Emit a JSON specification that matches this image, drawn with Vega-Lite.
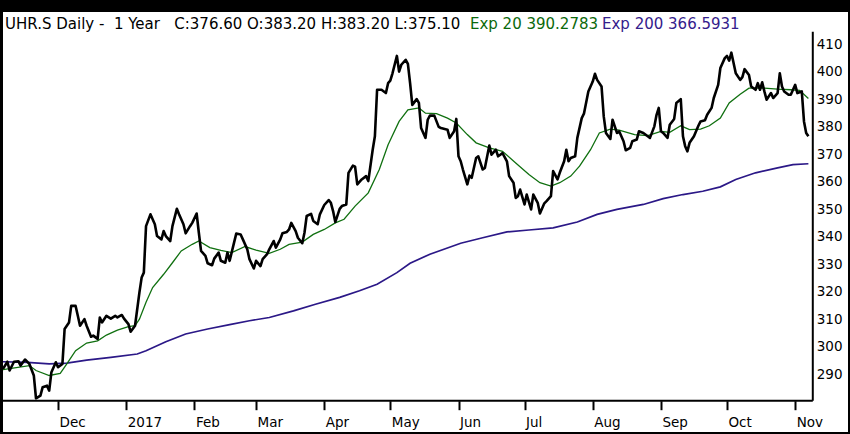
{
  "$schema": "https://vega.github.io/schema/vega-lite/v6.json",
  "width": 845,
  "height": 420,
  "autosize": {"type": "none"},
  "padding": {"left": 3, "top": 12, "right": 2, "bottom": 2},
  "background": "black",
  "config": {
    "view": {"fill": "white", "stroke": null},
    "font": "DejaVu Sans",
    "axis": {"labelOverlap": false, "labelFlush": false, "labelBound": false},
    "axisY": {"labelOverlap": false, "tickCount": 30},
    "axisX": {"tickCount": 30}
  },
  "datasets": {
    "close": [
      {"date": "2016-11-06", "value": 292.0}, {"date": "2016-11-08", "value": 294.6}, {"date": "2016-11-09", "value": 291.4},
      {"date": "2016-11-11", "value": 294.6}, {"date": "2016-11-13", "value": 294.8}, {"date": "2016-11-14", "value": 293.2},
      {"date": "2016-11-16", "value": 295.4}, {"date": "2016-11-18", "value": 293.8}, {"date": "2016-11-20", "value": 289.6},
      {"date": "2016-11-21", "value": 281.3}, {"date": "2016-11-23", "value": 282.3}, {"date": "2016-11-24", "value": 285.3},
      {"date": "2016-11-26", "value": 285.9}, {"date": "2016-11-27", "value": 284.1}, {"date": "2016-11-28", "value": 290.8},
      {"date": "2016-11-30", "value": 294.4}, {"date": "2016-12-01", "value": 292.6}, {"date": "2016-12-03", "value": 293.8},
      {"date": "2016-12-04", "value": 306.5}, {"date": "2016-12-06", "value": 308.9}, {"date": "2016-12-07", "value": 314.9},
      {"date": "2016-12-09", "value": 314.9}, {"date": "2016-12-10", "value": 311.3}, {"date": "2016-12-11", "value": 307.7},
      {"date": "2016-12-13", "value": 310.1}, {"date": "2016-12-14", "value": 307.7}, {"date": "2016-12-16", "value": 303.7},
      {"date": "2016-12-17", "value": 304.1}, {"date": "2016-12-19", "value": 302.9}, {"date": "2016-12-20", "value": 310.7},
      {"date": "2016-12-21", "value": 308.9}, {"date": "2016-12-23", "value": 311.3}, {"date": "2016-12-25", "value": 310.3},
      {"date": "2016-12-27", "value": 311.3}, {"date": "2016-12-28", "value": 310.7}, {"date": "2016-12-30", "value": 311.6},
      {"date": "2016-12-31", "value": 310.3}, {"date": "2017-01-02", "value": 308.3}, {"date": "2017-01-03", "value": 305.5},
      {"date": "2017-01-05", "value": 307.7}, {"date": "2017-01-07", "value": 319.8}, {"date": "2017-01-08", "value": 325.2},
      {"date": "2017-01-09", "value": 327.0}, {"date": "2017-01-10", "value": 343.9}, {"date": "2017-01-12", "value": 348.2},
      {"date": "2017-01-14", "value": 344.6}, {"date": "2017-01-15", "value": 340.3}, {"date": "2017-01-17", "value": 339.1},
      {"date": "2017-01-18", "value": 342.1}, {"date": "2017-01-19", "value": 340.3}, {"date": "2017-01-21", "value": 338.5},
      {"date": "2017-01-22", "value": 343.9}, {"date": "2017-01-24", "value": 350.2}, {"date": "2017-01-25", "value": 348.2},
      {"date": "2017-01-27", "value": 344.6}, {"date": "2017-01-28", "value": 341.3}, {"date": "2017-01-30", "value": 343.9},
      {"date": "2017-01-31", "value": 345.1}, {"date": "2017-02-02", "value": 348.5}, {"date": "2017-02-03", "value": 341.5},
      {"date": "2017-02-04", "value": 334.9}, {"date": "2017-02-06", "value": 333.1}, {"date": "2017-02-07", "value": 330.4},
      {"date": "2017-02-09", "value": 329.7}, {"date": "2017-02-10", "value": 332.1}, {"date": "2017-02-12", "value": 334.3},
      {"date": "2017-02-13", "value": 331.3}, {"date": "2017-02-15", "value": 330.6}, {"date": "2017-02-16", "value": 334.3},
      {"date": "2017-02-17", "value": 331.3}, {"date": "2017-02-19", "value": 337.9}, {"date": "2017-02-20", "value": 341.2},
      {"date": "2017-02-22", "value": 340.9}, {"date": "2017-02-23", "value": 339.1}, {"date": "2017-02-25", "value": 335.5},
      {"date": "2017-02-26", "value": 331.9}, {"date": "2017-02-28", "value": 328.5}, {"date": "2017-03-01", "value": 331.3},
      {"date": "2017-03-03", "value": 329.4}, {"date": "2017-03-04", "value": 331.9}, {"date": "2017-03-06", "value": 333.7},
      {"date": "2017-03-07", "value": 335.5}, {"date": "2017-03-09", "value": 338.5}, {"date": "2017-03-10", "value": 336.1},
      {"date": "2017-03-12", "value": 339.1}, {"date": "2017-03-13", "value": 341.3}, {"date": "2017-03-15", "value": 341.8},
      {"date": "2017-03-16", "value": 342.7}, {"date": "2017-03-17", "value": 345.1}, {"date": "2017-03-19", "value": 342.1},
      {"date": "2017-03-20", "value": 339.7}, {"date": "2017-03-22", "value": 337.7}, {"date": "2017-03-23", "value": 341.5},
      {"date": "2017-03-24", "value": 347.6}, {"date": "2017-03-26", "value": 348.4}, {"date": "2017-03-27", "value": 345.8},
      {"date": "2017-03-29", "value": 344.6}, {"date": "2017-03-30", "value": 348.2}, {"date": "2017-04-01", "value": 351.6},
      {"date": "2017-04-03", "value": 353.4}, {"date": "2017-04-04", "value": 352.4}, {"date": "2017-04-05", "value": 349.4},
      {"date": "2017-04-06", "value": 345.4}, {"date": "2017-04-08", "value": 350.2}, {"date": "2017-04-09", "value": 351.2},
      {"date": "2017-04-11", "value": 351.8}, {"date": "2017-04-12", "value": 363.3}, {"date": "2017-04-14", "value": 365.9},
      {"date": "2017-04-15", "value": 365.5}, {"date": "2017-04-16", "value": 359.1}, {"date": "2017-04-18", "value": 360.9},
      {"date": "2017-04-20", "value": 362.1}, {"date": "2017-04-21", "value": 360.3}, {"date": "2017-04-23", "value": 371.7},
      {"date": "2017-04-24", "value": 376.6}, {"date": "2017-04-25", "value": 393.5}, {"date": "2017-04-27", "value": 393.5},
      {"date": "2017-04-29", "value": 392.3}, {"date": "2017-04-30", "value": 395.9}, {"date": "2017-05-01", "value": 396.8},
      {"date": "2017-05-02", "value": 399.5}, {"date": "2017-05-04", "value": 405.8}, {"date": "2017-05-05", "value": 400.1},
      {"date": "2017-05-06", "value": 402.6}, {"date": "2017-05-08", "value": 404.4}, {"date": "2017-05-09", "value": 402.9},
      {"date": "2017-05-10", "value": 395.9}, {"date": "2017-05-11", "value": 388.0}, {"date": "2017-05-13", "value": 390.1},
      {"date": "2017-05-14", "value": 388.7}, {"date": "2017-05-15", "value": 379.6}, {"date": "2017-05-17", "value": 376.0},
      {"date": "2017-05-18", "value": 382.6}, {"date": "2017-05-19", "value": 384.1}, {"date": "2017-05-21", "value": 384.1},
      {"date": "2017-05-23", "value": 380.0}, {"date": "2017-05-24", "value": 379.6}, {"date": "2017-05-27", "value": 379.0},
      {"date": "2017-05-28", "value": 376.0}, {"date": "2017-05-30", "value": 378.4}, {"date": "2017-05-31", "value": 382.9},
      {"date": "2017-06-01", "value": 369.3}, {"date": "2017-06-02", "value": 367.5}, {"date": "2017-06-03", "value": 364.5},
      {"date": "2017-06-05", "value": 359.1}, {"date": "2017-06-06", "value": 362.3}, {"date": "2017-06-07", "value": 361.5},
      {"date": "2017-06-09", "value": 368.7}, {"date": "2017-06-10", "value": 369.3}, {"date": "2017-06-12", "value": 364.5},
      {"date": "2017-06-13", "value": 365.1}, {"date": "2017-06-15", "value": 373.2}, {"date": "2017-06-16", "value": 369.9},
      {"date": "2017-06-18", "value": 371.7}, {"date": "2017-06-19", "value": 369.3}, {"date": "2017-06-20", "value": 369.9},
      {"date": "2017-06-21", "value": 370.5}, {"date": "2017-06-23", "value": 367.5}, {"date": "2017-06-24", "value": 362.1},
      {"date": "2017-06-26", "value": 359.7}, {"date": "2017-06-27", "value": 354.2}, {"date": "2017-06-28", "value": 354.8},
      {"date": "2017-06-29", "value": 357.2}, {"date": "2017-07-01", "value": 351.8}, {"date": "2017-07-02", "value": 355.4},
      {"date": "2017-07-04", "value": 350.0}, {"date": "2017-07-05", "value": 355.4}, {"date": "2017-07-07", "value": 352.4},
      {"date": "2017-07-08", "value": 348.5}, {"date": "2017-07-10", "value": 352.2}, {"date": "2017-07-11", "value": 353.0},
      {"date": "2017-07-13", "value": 354.8}, {"date": "2017-07-14", "value": 363.9}, {"date": "2017-07-16", "value": 360.9},
      {"date": "2017-07-17", "value": 363.3}, {"date": "2017-07-19", "value": 367.5}, {"date": "2017-07-20", "value": 371.7},
      {"date": "2017-07-21", "value": 367.5}, {"date": "2017-07-22", "value": 368.7}, {"date": "2017-07-24", "value": 369.3},
      {"date": "2017-07-25", "value": 376.0}, {"date": "2017-07-27", "value": 383.2}, {"date": "2017-07-28", "value": 384.8},
      {"date": "2017-07-30", "value": 392.9}, {"date": "2017-08-01", "value": 396.5}, {"date": "2017-08-02", "value": 399.3},
      {"date": "2017-08-03", "value": 397.1}, {"date": "2017-08-05", "value": 394.7}, {"date": "2017-08-06", "value": 383.8},
      {"date": "2017-08-07", "value": 377.8}, {"date": "2017-08-09", "value": 375.6}, {"date": "2017-08-10", "value": 382.6},
      {"date": "2017-08-12", "value": 377.8}, {"date": "2017-08-13", "value": 378.4}, {"date": "2017-08-15", "value": 374.8},
      {"date": "2017-08-16", "value": 371.5}, {"date": "2017-08-18", "value": 372.4}, {"date": "2017-08-19", "value": 374.8},
      {"date": "2017-08-21", "value": 375.4}, {"date": "2017-08-22", "value": 378.4}, {"date": "2017-08-24", "value": 377.8},
      {"date": "2017-08-26", "value": 376.6}, {"date": "2017-08-27", "value": 376.0}, {"date": "2017-08-29", "value": 380.2},
      {"date": "2017-08-30", "value": 384.4}, {"date": "2017-08-31", "value": 386.9}, {"date": "2017-09-01", "value": 378.4},
      {"date": "2017-09-02", "value": 377.8}, {"date": "2017-09-04", "value": 376.0}, {"date": "2017-09-05", "value": 380.8},
      {"date": "2017-09-07", "value": 382.9}, {"date": "2017-09-08", "value": 388.7}, {"date": "2017-09-10", "value": 390.1},
      {"date": "2017-09-11", "value": 376.6}, {"date": "2017-09-12", "value": 373.0}, {"date": "2017-09-13", "value": 371.1},
      {"date": "2017-09-14", "value": 374.2}, {"date": "2017-09-16", "value": 376.6}, {"date": "2017-09-18", "value": 380.4},
      {"date": "2017-09-19", "value": 382.0}, {"date": "2017-09-21", "value": 382.4}, {"date": "2017-09-22", "value": 384.4},
      {"date": "2017-09-24", "value": 386.9}, {"date": "2017-09-25", "value": 390.5}, {"date": "2017-09-27", "value": 395.3},
      {"date": "2017-09-28", "value": 401.4}, {"date": "2017-09-30", "value": 405.0}, {"date": "2017-10-01", "value": 405.8},
      {"date": "2017-10-02", "value": 404.1}, {"date": "2017-10-03", "value": 407.0}, {"date": "2017-10-04", "value": 403.2},
      {"date": "2017-10-05", "value": 399.5}, {"date": "2017-10-07", "value": 397.1}, {"date": "2017-10-08", "value": 398.1},
      {"date": "2017-10-09", "value": 401.0}, {"date": "2017-10-11", "value": 398.9}, {"date": "2017-10-12", "value": 394.7},
      {"date": "2017-10-14", "value": 393.5}, {"date": "2017-10-15", "value": 395.9}, {"date": "2017-10-16", "value": 393.5},
      {"date": "2017-10-17", "value": 396.2}, {"date": "2017-10-18", "value": 392.9}, {"date": "2017-10-19", "value": 389.9},
      {"date": "2017-10-21", "value": 392.3}, {"date": "2017-10-22", "value": 390.5}, {"date": "2017-10-24", "value": 392.3},
      {"date": "2017-10-25", "value": 399.5}, {"date": "2017-10-26", "value": 394.7}, {"date": "2017-10-27", "value": 392.9},
      {"date": "2017-10-29", "value": 391.7}, {"date": "2017-10-30", "value": 391.7}, {"date": "2017-11-01", "value": 395.3},
      {"date": "2017-11-02", "value": 392.3}, {"date": "2017-11-04", "value": 392.9}, {"date": "2017-11-05", "value": 382.0},
      {"date": "2017-11-06", "value": 377.8}, {"date": "2017-11-07", "value": 376.6}
    ],
    "ema20": [
      {"date": "2016-11-06", "value": 291.7}, {"date": "2016-11-18", "value": 293.2}, {"date": "2016-11-21", "value": 291.4},
      {"date": "2016-11-27", "value": 289.6}, {"date": "2016-12-02", "value": 290.4}, {"date": "2016-12-05", "value": 293.8},
      {"date": "2016-12-09", "value": 298.6}, {"date": "2016-12-14", "value": 301.4}, {"date": "2016-12-19", "value": 302.2},
      {"date": "2016-12-23", "value": 304.3}, {"date": "2016-12-28", "value": 306.1}, {"date": "2017-01-02", "value": 307.4},
      {"date": "2017-01-05", "value": 307.7}, {"date": "2017-01-07", "value": 310.1}, {"date": "2017-01-10", "value": 316.2},
      {"date": "2017-01-13", "value": 321.6}, {"date": "2017-01-18", "value": 326.4}, {"date": "2017-01-22", "value": 330.6},
      {"date": "2017-01-26", "value": 334.9}, {"date": "2017-01-31", "value": 337.3}, {"date": "2017-02-03", "value": 338.5},
      {"date": "2017-02-08", "value": 336.1}, {"date": "2017-02-13", "value": 335.1}, {"date": "2017-02-18", "value": 334.3},
      {"date": "2017-02-24", "value": 336.5}, {"date": "2017-03-01", "value": 335.2}, {"date": "2017-03-07", "value": 334.0},
      {"date": "2017-03-12", "value": 335.5}, {"date": "2017-03-16", "value": 337.3}, {"date": "2017-03-22", "value": 338.1},
      {"date": "2017-03-27", "value": 340.9}, {"date": "2017-04-01", "value": 342.7}, {"date": "2017-04-06", "value": 345.1},
      {"date": "2017-04-10", "value": 346.4}, {"date": "2017-04-15", "value": 351.2}, {"date": "2017-04-21", "value": 356.0},
      {"date": "2017-04-26", "value": 364.5}, {"date": "2017-04-30", "value": 373.5}, {"date": "2017-05-05", "value": 382.0},
      {"date": "2017-05-09", "value": 386.2}, {"date": "2017-05-14", "value": 386.9}, {"date": "2017-05-17", "value": 385.0},
      {"date": "2017-05-22", "value": 384.8}, {"date": "2017-05-27", "value": 383.2}, {"date": "2017-05-31", "value": 381.4},
      {"date": "2017-06-05", "value": 377.2}, {"date": "2017-06-09", "value": 374.2}, {"date": "2017-06-15", "value": 372.4},
      {"date": "2017-06-21", "value": 371.1}, {"date": "2017-06-27", "value": 366.9}, {"date": "2017-07-03", "value": 362.7},
      {"date": "2017-07-08", "value": 359.7}, {"date": "2017-07-13", "value": 358.5}, {"date": "2017-07-17", "value": 359.7},
      {"date": "2017-07-22", "value": 362.1}, {"date": "2017-07-26", "value": 365.7}, {"date": "2017-07-31", "value": 371.7},
      {"date": "2017-08-04", "value": 377.8}, {"date": "2017-08-09", "value": 379.2}, {"date": "2017-08-13", "value": 378.8},
      {"date": "2017-08-20", "value": 377.2}, {"date": "2017-08-26", "value": 376.8}, {"date": "2017-09-01", "value": 378.4},
      {"date": "2017-09-05", "value": 378.0}, {"date": "2017-09-10", "value": 380.4}, {"date": "2017-09-14", "value": 379.0},
      {"date": "2017-09-19", "value": 379.2}, {"date": "2017-09-23", "value": 380.4}, {"date": "2017-09-28", "value": 383.2},
      {"date": "2017-10-02", "value": 388.7}, {"date": "2017-10-07", "value": 391.9}, {"date": "2017-10-11", "value": 394.1},
      {"date": "2017-10-18", "value": 394.1}, {"date": "2017-10-24", "value": 393.7}, {"date": "2017-10-30", "value": 393.5},
      {"date": "2017-11-03", "value": 393.3}, {"date": "2017-11-07", "value": 390.3}
    ],
    "ema200": [
      {"date": "2016-11-06", "value": 294.6}, {"date": "2016-11-17", "value": 294.4}, {"date": "2016-11-27", "value": 293.8},
      {"date": "2016-12-05", "value": 294.1}, {"date": "2016-12-14", "value": 295.2}, {"date": "2016-12-25", "value": 296.2},
      {"date": "2017-01-06", "value": 297.4}, {"date": "2017-01-10", "value": 298.6}, {"date": "2017-01-19", "value": 301.9},
      {"date": "2017-01-28", "value": 304.7}, {"date": "2017-02-07", "value": 306.5}, {"date": "2017-02-17", "value": 308.1},
      {"date": "2017-02-26", "value": 309.5}, {"date": "2017-03-07", "value": 310.7}, {"date": "2017-03-18", "value": 313.1},
      {"date": "2017-03-28", "value": 315.5}, {"date": "2017-04-08", "value": 318.0}, {"date": "2017-04-17", "value": 320.4},
      {"date": "2017-04-25", "value": 322.8}, {"date": "2017-05-04", "value": 327.0}, {"date": "2017-05-10", "value": 330.4},
      {"date": "2017-05-19", "value": 333.7}, {"date": "2017-06-02", "value": 337.7}, {"date": "2017-06-12", "value": 339.7},
      {"date": "2017-06-23", "value": 341.8}, {"date": "2017-07-03", "value": 342.5}, {"date": "2017-07-14", "value": 343.3},
      {"date": "2017-07-25", "value": 345.4}, {"date": "2017-08-03", "value": 348.2}, {"date": "2017-08-12", "value": 350.0},
      {"date": "2017-08-24", "value": 351.8}, {"date": "2017-09-02", "value": 353.9}, {"date": "2017-09-11", "value": 355.4},
      {"date": "2017-09-20", "value": 356.6}, {"date": "2017-09-28", "value": 358.2}, {"date": "2017-10-05", "value": 360.9},
      {"date": "2017-10-14", "value": 363.3}, {"date": "2017-10-24", "value": 365.1}, {"date": "2017-10-31", "value": 366.3},
      {"date": "2017-11-07", "value": 366.6}
    ]
  },
  "layer": [
    {
      "encoding": {
        "x": {
          "field": "date", "type": "temporal",
          "scale": {"domain": [{"year": 2016, "month": 11, "date": 6}, {"year": 2017, "month": 11, "date": 25}], "nice": false},
          "axis": {
            "orient": "bottom", "offset": -31.3, "domain": false, "grid": false, "zindex": 2,
            "ticks": true, "tickSize": 9, "tickWidth": 2, "tickColor": "black", "tickCount": 30,
            "values": [
              {"year": 2016, "month": 12, "date": 1}, {"year": 2017, "month": 1, "date": 1}, {"year": 2017, "month": 2, "date": 1},
              {"year": 2017, "month": 3, "date": 1}, {"year": 2017, "month": 4, "date": 1}, {"year": 2017, "month": 5, "date": 1},
              {"year": 2017, "month": 6, "date": 1}, {"year": 2017, "month": 7, "date": 1}, {"year": 2017, "month": 8, "date": 1},
              {"year": 2017, "month": 9, "date": 1}, {"year": 2017, "month": 10, "date": 1}, {"year": 2017, "month": 11, "date": 1}
            ],
            "labelExpr": "month(datum.value) == 0 ? timeFormat(datum.value, '%Y') : timeFormat(datum.value, '%b')",
            "labelAlign": "left", "labelOffset": 1, "labelPadding": 6, "labelFontSize": 13.5,
            "labelFont": "DejaVu Sans", "labelColor": "black", "labelFlush": false, "labelOverlap": false,
            "title": null
          }
        },
        "y": {
          "field": "value", "type": "quantitative",
          "scale": {"domain": [269.05, 421.78], "nice": false, "zero": false},
          "axis": {
            "orient": "right", "offset": -35.3, "domain": false, "ticks": false, "tickSize": 0, "grid": false, "zindex": 2,
            "tickCount": 30,
            "values": [290, 300, 310, 320, 330, 340, 350, 360, 370, 380, 390, 400, 410],
            "labelPadding": 3.5, "labelFontSize": 13.5, "labelFont": "DejaVu Sans", "labelColor": "black",
            "labelBaseline": "middle", "labelFlush": false, "labelOverlap": false, "title": null
          }
        }
      },
      "layer": [
        {"data": {"name": "ema200"}, "mark": {"type": "line", "color": "#2b1887", "strokeWidth": 1.7}},
        {"data": {"name": "ema20"}, "mark": {"type": "line", "color": "#107010", "strokeWidth": 1.3}},
        {"data": {"name": "close"}, "mark": {"type": "line", "color": "black", "strokeWidth": 2.6, "strokeJoin": "round"}}
      ]
    },
    {
      "data": {"values": [{}]},
      "mark": {"type": "rule", "color": "black", "strokeWidth": 2},
      "encoding": {
        "x": {"datum": {"year": 2016, "month": 11, "date": 6}, "type": "temporal", "title": null},
        "x2": {"datum": {"year": 2017, "month": 11, "date": 9}},
        "y": {"datum": 280.43, "type": "quantitative", "title": null}
      }
    },
    {
      "data": {"values": [{}]},
      "mark": {"type": "rule", "color": "black", "strokeWidth": 2},
      "encoding": {
        "x": {"datum": {"year": 2017, "month": 11, "date": 9}, "type": "temporal", "title": null},
        "y": {"datum": 280.43, "type": "quantitative", "title": null},
        "y2": {"datum": 414.6}
      }
    },
    {
      "data": {"values": [{}]},
      "mark": {"type": "text", "align": "left", "baseline": "alphabetic", "fontSize": 15, "font": "DejaVu Sans", "color": "black"},
      "encoding": {
        "x": {"datum": {"year": 2016, "month": 11, "date": 6, "hours": 22}, "type": "temporal", "title": null},
        "y": {"datum": 415.42, "type": "quantitative", "title": null},
        "text": {"value": "UHR.S Daily -\u00a0\u00a01 Year\u00a0\u00a0\u00a0C:376.60 O:383.20 H:383.20 L:375.10"}
      }
    },
    {
      "data": {"values": [{}]},
      "mark": {"type": "text", "align": "left", "baseline": "alphabetic", "fontSize": 15, "font": "DejaVu Sans", "color": "#0b690b"},
      "encoding": {
        "x": {"datum": {"year": 2017, "month": 6, "date": 6, "hours": 5}, "type": "temporal", "title": null},
        "y": {"datum": 415.42, "type": "quantitative", "title": null},
        "text": {"value": "Exp 20 390.2783"}
      }
    },
    {
      "data": {"values": [{}]},
      "mark": {"type": "text", "align": "left", "baseline": "alphabetic", "fontSize": 15, "font": "DejaVu Sans", "color": "#34208c"},
      "encoding": {
        "x": {"datum": {"year": 2017, "month": 8, "date": 5, "hours": 5}, "type": "temporal", "title": null},
        "y": {"datum": 415.42, "type": "quantitative", "title": null},
        "text": {"value": "Exp 200 366.5931"}
      }
    }
  ]
}
